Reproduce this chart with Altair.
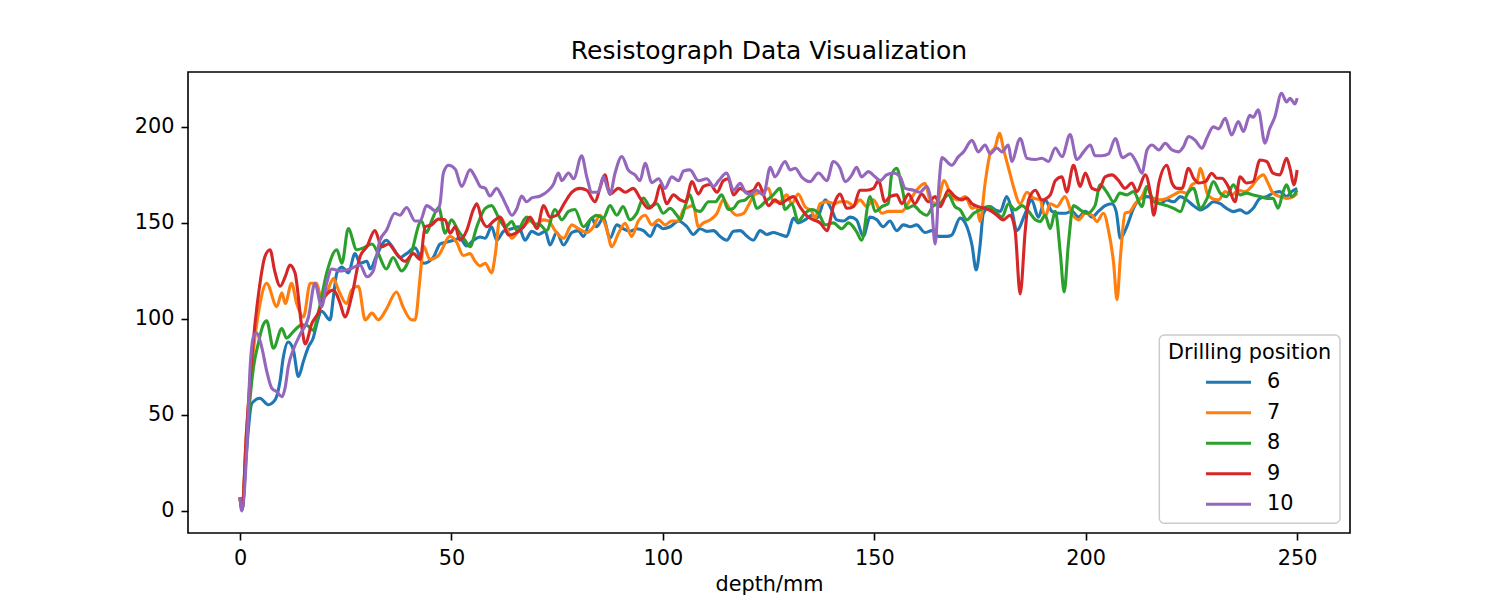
import altair as alt
import pandas as pd

positions = ["6", "7", "8", "9", "10"]
colors = ["#1f77b4", "#ff7f0e", "#2ca02c", "#d62728", "#9467bd"]
x_ticks = [0, 50, 100, 150, 200, 250]
y_ticks = [0, 50, 100, 150, 200]
legend_title = "Drilling position"

# (depth mm, resistance)
pos6 = [(0,7),(0.5,1),(1.5,30),(2.8,56),(4.7,58.7),(6.7,55.3),(8.3,57.8),(9.5,68),(10.2,79.5),(11.4,88),(12.6,84),(13.8,70),(15,78),(16.2,85.6),(17.3,90),(18.1,97),(19.3,104),(21.3,99.5),(22.1,111.7),(22.9,124),(24.1,127),(25.6,124),(27.2,134),(28.4,129),(30,130),(30.8,126),(32.3,133),(34.6,141),(36.2,137),(37.8,132),(39.4,134),(41.4,137),(43.4,129),(45.7,132),(47.3,139),(48.9,140),(50.5,141),(52,142),(53.6,138),(55.2,141),(56.8,142.7),(58,142),(59.5,148),(60.7,141),(62.3,145.6),(64.3,147),(65.9,148),(67.4,141),(69,145.6),(70.6,144),(72.2,145.6),(73.3,138.5),(74.9,145),(76.5,138.5),(78.5,145),(80,146),(81.2,143),(83.2,152.5),(84.3,148),(85.9,152.5),(87.5,142),(89.1,149),(90.6,147),(92.2,145.6),(93.8,147),(95.4,146),(97,143),(98.6,149),(100.1,147),(101.7,148),(103.7,151),(105.7,148),(107.2,144),(108.8,147),(110.4,145.6),(112,146),(113.5,143),(115.1,141),(116.7,145.6),(118.3,146),(119.9,143),(121.4,141),(123,146),(124.6,144),(126.1,145),(127.7,144),(129.3,143),(130.9,152.5),(132,150),(133.6,151.6),(135.2,154),(136.4,152.5),(138.4,162),(139.9,157),(141.1,151.6),(142.7,151),(144.3,153),(145.8,151.6),(147.4,143),(149,153),(150.6,151.6),(152.1,148),(153.7,151),(155.3,146),(156.9,149),(158.5,148),(160,149),(162,145),(163.6,146),(165.2,143),(167.1,143),(168.3,143.7),(170.3,152.5),(171.9,148),(173.1,138.5),(174.1,125.5),(175,138),(175.8,155),(177.4,158.5),(178.6,156.8),(179.8,156),(181.3,163.7),(182.5,156.8),(183.7,146),(185.7,155),(187.2,162),(188.8,153),(190.4,162),(192,156),(193.6,155),(195.1,155),(196.7,156),(198.3,153),(199.9,156),(201.5,153),(203,156),(204.6,159),(206.2,160),(207.2,156),(208.2,142),(209.7,148),(211.3,157.6),(212.9,162.8),(214.5,163.7),(216.1,162.8),(217.6,160),(219.2,161.9),(220.8,161),(222.4,163.7),(223.9,161.9),(225.5,159),(227.1,156.8),(228.7,158.5),(230.2,161),(231.8,160),(233.3,157.6),(234.9,155.9),(236.5,156.8),(238,155),(239.6,157.6),(241.2,162.8),(242.8,163.7),(244.3,165.5),(245.9,166.3),(247.5,163.7),(248.7,166.3),(250,168)]

pos7 = [(0,7),(0.5,1),(1.5,40),(3,80),(4.5,105),(6.3,118.6),(8.7,106.4),(9.9,113.6),(10.7,108),(12.2,118.6),(13.4,108),(15,101),(16.6,118.6),(18.1,118.6),(19.3,110),(20.5,113.6),(22.1,121),(23.3,115),(25.2,108),(26.4,115),(28,117),(29.6,99.5),(31.2,103),(32.7,99.5),(34.6,105),(37,114),(38.6,106),(40.6,99.5),(41.4,99.5),(42.6,122),(43.4,138),(44.9,131),(46.9,133),(49.7,143),(51.2,140),(52.8,133),(54.4,134),(55.6,130),(56.8,127.6),(58,129),(59.5,124),(60.3,132.5),(61.5,153),(62.7,149),(64.3,142),(65.9,146),(67.4,149),(69,151.6),(70.2,147),(71.4,151.6),(73,151),(74.5,146),(76.5,142),(78.5,149),(80,147),(82,145),(83.6,148),(85.1,154),(86.7,147),(87.9,137.6),(89.5,144.6),(91.1,149.8),(92.6,143),(94.2,151),(95.8,154),(97.4,149),(99,151.6),(100.5,149),(102.1,151),(103.7,151),(104.9,157),(105.7,158),(107.2,159),(108.4,148),(109.6,150),(111.2,151.6),(112.8,155),(114.3,162),(115.9,157),(117.5,154),(119.1,155),(120.2,159),(121.8,165),(123.4,166),(125,168),(126.1,161),(127.7,161),(129.3,164.6),(130.5,160),(132,165),(133.6,158.5),(135.2,156),(136,152.5),(137.2,160),(138.8,161),(140.7,160),(141.9,161),(143.5,161),(145.1,159),(146.6,162),(148.2,158.5),(149.8,162),(151.8,155),(153.3,156),(154.9,156),(156.5,156),(158.5,162),(160,167),(162,170.6),(163.2,162),(164.8,160),(166.5,172),(168.3,163.7),(169.9,162),(171.5,163.7),(173.1,157.6),(174.2,158.5),(175,150.7),(176.2,170.6),(177.4,186),(178.6,189.6),(179.6,196.7),(180.6,188),(181.7,179),(182.9,169),(184.5,160),(186.1,166),(187.6,163),(189.2,162),(190.4,153),(191.6,160),(193.2,158.5),(195.1,163.7),(196.7,155),(198.3,151.6),(199.9,155),(201.5,154),(202.6,150.7),(204.2,155),(205.4,146),(206.6,129),(207.4,110),(208.2,132),(209.3,155),(210.5,156),(211.7,160),(213.3,163.7),(214.5,168.9),(215.7,162.8),(217.6,162),(219.2,162.8),(220.8,164.6),(222.4,166.3),(223.9,165.5),(225.1,169.8),(226.3,171.5),(227.1,178.5),(227.9,173.3),(228.7,165.5),(229.8,162.8),(231.4,162),(233,166.3),(234.5,164.6),(236.1,167),(237.7,166.3),(239.2,168.9),(240.4,172.4),(242,175),(243.1,170.8),(244.3,165.5),(245.9,163.7),(247.5,162.8),(249.1,163.7),(250,165.5)]

pos8 = [(0,7),(0.5,1),(1.5,35),(3.2,75),(4.3,87),(5.5,97),(6.3,99),(7.9,84.7),(9.9,95),(11,90),(12.6,93.4),(14.6,96.9),(15.8,96.7),(17.3,94),(18.5,103),(20.5,124),(22.9,136),(24.1,129),(25.6,147),(27.6,136),(29.2,137),(31.2,139),(32.7,134),(34.6,126),(36.2,132),(38.2,125),(40.2,132),(42.9,151),(44.1,145),(45.3,151),(47,158),(48.5,144.6),(50,151.6),(51.6,146),(53.2,141),(54.4,137.6),(56,148),(58,157.6),(59.5,159),(61.1,153),(62.7,148),(64.3,150.7),(65.5,146),(67.8,153),(69.4,149.8),(71,149),(72.5,146),(74.5,157),(76.1,151.6),(77.7,156),(79.2,157),(81.2,148),(82.8,151.6),(84.3,154),(85.9,152.5),(87.5,159),(89.1,154),(90.6,158.5),(92.2,151.6),(93.8,155),(95.4,163),(97,158.5),(98.6,160),(100.1,155),(101.7,157.6),(103.3,154),(104.2,151.6),(105.3,159),(106.4,164.6),(107.6,157),(108.8,156),(110.8,161),(112.4,161),(113.9,164.6),(115.5,157),(116.7,157.6),(117.9,161),(119.5,162),(121,164.6),(122.2,157.6),(124.2,161),(126.1,164.6),(127.7,168),(128.9,157),(130.5,160),(132,151),(133.6,155),(135.2,157),(136.8,155),(138.4,149),(140.3,150),(142.3,147),(143.9,150),(145.8,145.5),(147,141),(149,163.7),(150.2,156),(151.8,158.5),(153.3,160),(154.1,175),(155.3,178.5),(156.5,169),(157.7,157.6),(159.3,159),(160.8,156),(162.4,154),(164,159),(165.5,160),(167.5,164.6),(169.1,158.5),(170.3,156.8),(171.9,151.6),(173.5,155),(175,156.8),(177,158.5),(178.6,156),(180.2,153),(181.7,160),(183.3,156.8),(184.9,159),(186.5,156),(188.1,151.6),(189.2,150.7),(190.4,154),(191.6,147),(192.8,156),(194,134),(194.9,114),(195.9,139),(197.1,159),(198.7,156.8),(200.3,155),(202.2,159),(203.4,169.8),(205,166),(206.6,161),(208.1,165.5),(209.7,164.6),(211.3,166.3),(213.3,158.5),(214.5,168.9),(216.1,161),(217.6,160),(219.2,159),(220.8,157.6),(222.4,155.9),(223.9,164.6),(225.5,168),(227.1,157.6),(228.7,162.8),(230.2,171.5),(231.8,165.5),(233.3,163.7),(234.9,169.8),(236.5,164.6),(238,165.5),(239.6,164.6),(241.2,163.7),(242.8,162.8),(244.3,162.8),(245.5,157.6),(246.7,166.3),(247.5,169.8),(248.7,163.7),(250,167)]

pos9 = [(0,7),(0.5,1),(1.5,40),(3,85),(4.5,115),(5.9,132.5),(7.1,136),(8.2,125),(9.5,117),(10.7,122),(11.8,128),(13,124),(14.6,96),(15.4,87),(17,97.7),(18.5,103),(20.1,111.7),(22.1,115),(23.7,108),(24.8,101),(26.4,111.7),(28.4,132.5),(30,137.6),(31.9,146),(33.5,137.6),(35.1,139),(37,134),(39,130),(41,134),(42.6,131),(43.8,148),(45.3,149),(46.9,152),(48.5,151.6),(49.7,144.6),(50.9,148),(52,141),(53.6,146),(55.2,157),(56,160),(57.2,151.6),(58.4,148),(60,151),(61.5,153),(63.5,143.7),(65.1,144.6),(67.1,148),(68.6,153),(70.2,147.2),(71.8,159),(73.3,153),(74.9,154),(76.9,161),(78.5,166),(80.4,168),(82,167),(84,161),(85.1,168),(86.3,175),(87.5,165),(89.5,168),(91.1,166),(93,168),(94.6,163),(96.6,157.6),(98.2,161),(99.4,169.8),(100.9,160),(102.5,164.6),(104.1,162),(105.3,161),(106.9,171.5),(108.4,165),(109.6,169),(111.2,170),(112.8,166),(114.3,172),(115.5,173),(116.7,164.6),(118.3,168),(119.9,166),(121.4,167),(122.6,170.6),(123.8,164.6),(125,159),(126.5,162),(127.7,160),(129.3,162),(130.9,163.7),(132.4,158.5),(134.4,153),(135.6,151.6),(137.2,150),(138.8,146),(140.3,158.5),(141.9,165),(143.5,157.6),(145.1,158.5),(146.6,167),(148.2,167),(149.8,168),(151,172),(152.5,161),(153.7,163.7),(155.3,164.6),(156.5,160),(158.1,165),(159.6,160),(161.2,165),(162.8,161),(164.4,163.7),(165.6,158.5),(167.5,167),(169.1,163.7),(170.7,162),(171.9,163),(173.1,160),(174.6,158.5),(176.2,157.6),(177.8,156),(179,154),(180.5,151.6),(182.1,154),(183.3,146),(184.5,113),(185.7,146),(186.5,162),(188.1,167),(189.6,162),(191.6,164.6),(192.8,172),(194.4,174),(195.5,166),(197.1,180),(198.7,169),(199.9,176),(201.5,168),(203,167),(204.6,174),(206.2,175),(207.8,172),(209.3,168),(210.9,170.8),(212.1,166.3),(214.1,175),(215.3,165.5),(216.1,154),(217.3,170.8),(219.2,180),(220.4,170.8),(221.6,168),(222.8,168),(224.3,178.5),(225.5,173.3),(226.7,170.8),(228.3,171.5),(229.8,175.9),(231,173.3),(232.2,173.3),(233.7,169),(235.3,161),(236.5,174),(238,170.8),(239.6,171.5),(241.2,182.8),(242.8,182),(244.3,175.9),(245.9,175),(247.5,183.7),(248.4,177.6),(249.2,169.8),(250,177.6)]

pos10 = [(0,7),(0.4,0),(1.6,31.8),(2.4,75),(3.2,90.8),(3.9,92.7),(5.1,85.6),(6.3,73),(7.5,64),(8.7,62),(9.9,59.5),(10.7,64.5),(11.4,75),(12.6,84),(14.2,91.8),(16.2,101),(17.7,118.6),(19.3,106.4),(20.5,118.6),(21.7,126),(23.7,125),(26,126),(28.4,128),(30,122),(31.5,125),(33.1,141),(34.6,146),(36.6,155),(37.8,154),(39.4,158),(41.4,151),(42.6,151),(44.1,159),(46.5,156),(47.3,160),(48.1,176),(49.3,180),(50.9,178),(52.4,169),(54.4,177.6),(55.6,174),(56.8,169),(58,168),(59.1,164),(60.7,168),(61.9,164),(63.1,158.5),(64.3,154),(65.5,157.6),(66.6,164),(67.8,161),(69,163),(71,164),(73,167),(74.1,170),(75.3,176),(76.1,172),(77.7,176),(78.9,173),(80.8,185),(82,174),(83.2,166),(84.7,166),(85.9,174),(87.5,165),(88.7,176),(90.3,184.6),(91.8,177.6),(93.4,175),(94.6,172),(95.8,181),(97.4,171),(99,173),(100.5,168),(102.1,174),(103.7,172),(104.9,177),(106.4,177.6),(108.4,172),(110.4,173),(112,169),(113.2,172),(115.1,176),(116.7,167),(118.3,170.6),(119.5,166),(120.6,165),(122.2,167),(123.8,164.6),(125.4,179),(126.5,174),(128.9,182),(130.1,177.6),(131.3,178.5),(132.8,174),(134.8,171.5),(136.8,176),(138.8,172),(140.3,182),(141.9,178.5),(143.1,171.5),(144.7,175),(145.8,179),(147,174),(148.6,176.7),(150.2,174),(151.4,172),(152.9,175),(154.5,176),(156.1,174),(157.3,168),(159.3,167),(160.8,166),(162.4,169),(163.5,160),(164.4,139),(165.3,170),(166,184),(167.6,181),(168.3,180),(169.9,184.5),(171.1,187),(173.1,193),(174.6,187),(176.2,190.6),(177.4,186),(179,189),(180.2,187),(181.7,190.6),(182.5,182),(184.5,194),(186.1,183.7),(188.1,183),(189.6,183.7),(191.2,182),(192.8,189),(194.4,184.5),(196.3,196),(197.9,183),(199.5,187),(201.1,190.6),(202.2,185),(203.8,185),(205.4,186),(207,194),(208.7,184),(210.5,186),(212.1,181),(213.3,175.9),(214.5,188),(215.7,190.6),(217.3,188),(218.8,191.5),(220.4,188),(222,187),(223.1,189.6),(224.3,195),(225.9,193),(227.5,188.9),(228.6,194),(230.2,200),(231.4,199),(233,204.5),(234.5,195.8),(236.1,202.8),(237.3,197.6),(238.8,206),(239.6,205),(240.8,208.9),(242.4,191.5),(243.5,199),(244.7,205),(246.3,217.5),(247.5,213),(248.3,214.9),(249.5,212),(250,215)]

series = {"6": pos6, "7": pos7, "8": pos8, "9": pos9, "10": pos10}
rows = []
for name in positions:
    for d, v in series[name]:
        rows.append({"depth": d, "value": v, "Drilling position": name})
df = pd.DataFrame(rows)

FONT = "DejaVu Sans"
color_scale = alt.Scale(domain=positions, range=colors)

lines = alt.Chart(df).mark_line(strokeWidth=3.1, interpolate="monotone").encode(
    x=alt.X("depth:Q",
            scale=alt.Scale(domain=[-12.3, 262.5], nice=False, zero=False),
            axis=alt.Axis(values=x_ticks, title="depth/mm", grid=False, domain=False,
                          tickSize=7, tickWidth=1.6, tickColor="black",
                          labelPadding=8, labelFontSize=20.8, labelFont=FONT,
                          labelColor="black", titleFontSize=20.8, titleFont=FONT,
                          titleFontWeight="normal", titleColor="black", titlePadding=7)),
    y=alt.Y("value:Q",
            scale=alt.Scale(domain=[-11.5, 228.6], nice=False, zero=False),
            axis=alt.Axis(values=y_ticks, title=None, grid=False, domain=False,
                          tickSize=7, tickWidth=1.6, tickColor="black",
                          labelPadding=7, labelFontSize=20.8, labelFont=FONT,
                          labelColor="black")),
    color=alt.Color("Drilling position:N", scale=color_scale, legend=None),
)

# legend (matplotlib-style box in the lower right of the plot area)
legend_df = pd.DataFrame({"Drilling position": positions, "idx": list(range(len(positions)))})
legend_base = alt.Chart(legend_df).transform_calculate(ly="310.3 + 30.5 * datum.idx")

legend_box = alt.Chart(pd.DataFrame({"t": [legend_title]})).mark_rect(
    cornerRadius=5, fill="white", fillOpacity=0.8, stroke="#cccccc", strokeWidth=1.5
).encode(x=alt.value(971.3), x2=alt.value(1152), y=alt.value(263), y2=alt.value(451.3))

legend_title_mark = alt.Chart(pd.DataFrame({"t": [legend_title]})).mark_text(
    align="center", baseline="alphabetic", fontSize=20.8, font=FONT, color="black"
).encode(x=alt.value(1061.6), y=alt.value(287.3), text="t:N")

legend_lines = legend_base.mark_rule(strokeWidth=3.1).encode(
    x=alt.value(1018), x2=alt.value(1063),
    y=alt.Y("ly:Q", scale=None, axis=None),
    color=alt.Color("Drilling position:N", scale=color_scale, legend=None),
)

legend_labels = legend_base.mark_text(
    align="left", baseline="middle", fontSize=20.8, font=FONT, color="black"
).encode(
    x=alt.value(1079),
    y=alt.Y("ly:Q", scale=None, axis=None),
    text="Drilling position:N",
)

chart = alt.layer(
    lines, legend_box, legend_title_mark, legend_lines, legend_labels
).properties(
    width=1162,
    height=461,
    title=alt.TitleParams("Resistograph Data Visualization", fontSize=25, font=FONT,
                          fontWeight="normal", color="black", anchor="middle",
                          baseline="alphabetic", offset=-12),
    autosize=alt.AutoSizeParams(type="none"),
    padding={"left": 180, "top": 64, "right": 130, "bottom": 66},
).configure_view(stroke="black", strokeWidth=1.6)

chart.save("out.html", embed_options={"renderer": "svg", "actions": False})
